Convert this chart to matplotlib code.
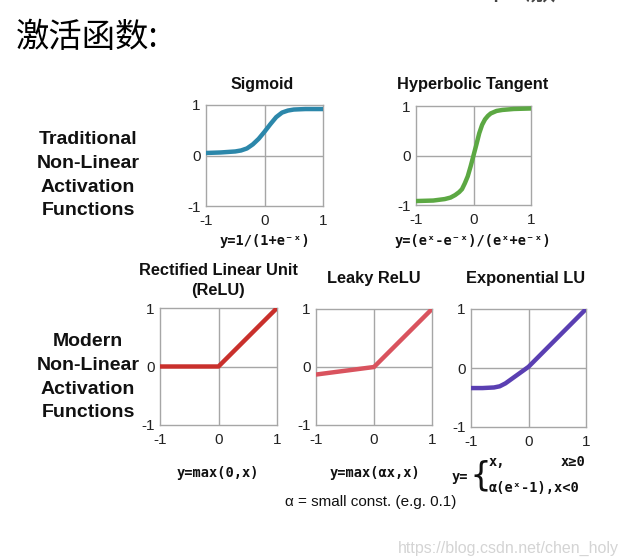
import matplotlib
matplotlib.use("Agg")
import matplotlib.pyplot as plt

W, H = 626, 559

# curve samples
sig_x = [-1.0, -0.75, -0.5, -0.4, -0.3, -0.2, -0.1, 0.0, 0.1, 0.2, 0.3, 0.4, 0.5, 0.7, 1.0]
sig_y = [0.05, 0.06, 0.08, 0.10, 0.14, 0.22, 0.33, 0.47, 0.62, 0.76, 0.85, 0.89, 0.91, 0.92, 0.92]

tanh_x = [-1.0, -0.7, -0.5, -0.4, -0.32, -0.25, -0.2, -0.15, -0.1, -0.05, 0.0, 0.05, 0.1, 0.15, 0.2, 0.25, 0.3, 0.4, 0.5, 0.7, 1.0]
tanh_y = [-0.92, -0.91, -0.88, -0.85, -0.80, -0.74, -0.68, -0.56, -0.42, -0.22, 0.0, 0.22, 0.45, 0.62, 0.73, 0.80, 0.85, 0.90, 0.92, 0.94, 0.95]

relu_x = [-1.0, 0.0, 1.0]
relu_y = [0.0, 0.0, 1.0]

leaky_x = [-1.0, 0.0, 1.0]
leaky_y = [-0.13, 0.0, 1.0]

elu_x = [-1.0, -0.8, -0.6, -0.5, -0.4, -0.3, -0.2, -0.1, 0.0, 0.5, 1.0]
elu_y = [-0.34, -0.34, -0.33, -0.31, -0.26, -0.19, -0.12, -0.05, 0.02, 0.51, 1.0]

ticks = [-1, 0, 1]
tick_labels = ["-1", "0", "1"]

plt.rcParams['font.family'] = ['Liberation Sans', 'DejaVu Sans']

fig = plt.figure(figsize=(W / 100, H / 100), dpi=100)
fig.patch.set_facecolor("white")


def fx(x):
    return x / W


def fy(y):
    return 1 - y / H


def panel(left, top, right, bottom, xs, ys, color):
    ax = fig.add_axes([fx(left), fy(bottom), fx(right - left), (bottom - top) / H])
    ax.plot(xs, ys, color=color, lw=3.2, solid_capstyle="round", solid_joinstyle="round", zorder=3)
    ax.axhline(0, color="#a6a6a6", lw=1.0, zorder=1)
    ax.axvline(0, color="#a6a6a6", lw=1.0, zorder=1)
    ax.set_xlim(-1, 1)
    ax.set_ylim(-1, 1)
    ax.set_xticks(ticks)
    ax.set_yticks(ticks)
    ax.set_xticklabels(tick_labels)
    ax.set_yticklabels(tick_labels)
    ax.tick_params(axis="x", length=0, labelsize=11, pad=6, colors="#222222")
    ax.tick_params(axis="y", length=0, labelsize=11, pad=4, colors="#222222")
    for s in ax.spines.values():
        s.set_color("#a6a6a6")
        s.set_linewidth(1.0)
    return ax


def txt(x, y, s, size, weight="normal", family=None, ha="center", color="#111111", **kw):
    fam = family if family else ['Liberation Sans', 'DejaVu Sans']
    fig.text(fx(x), fy(y), s, fontsize=size, fontweight=weight, family=fam,
             ha=ha, va="center", color=color, **kw)


# panels
panel(206, 105, 323, 206, sig_x, sig_y, "#2c87aa")
panel(416, 106, 531, 205, tanh_x, tanh_y, "#5ca843")
panel(160, 308, 277, 425, relu_x, relu_y, "#c9302c")
panel(316, 309, 432, 425, leaky_x, leaky_y, "#d9535e")
panel(471, 309, 586, 427, elu_x, elu_y, "#5a3fb2")

# heading
cjk = ['Noto Sans CJK SC', 'DejaVu Sans']
txt(16, 37, "激活函数:", 24, family=cjk, ha="left", color="#000000")
txt(300, -9, "TensorFlow  中  激", 22, family=cjk, ha="left", color="#444444")

# row labels
for i, s in enumerate(["Traditional", "Non-Linear", "Activation", "Functions"]):
    txt(88, 140 + i * 23.5, s, 14, weight="bold")
for i, s in enumerate(["Modern", "Non-Linear", "Activation", "Functions"]):
    txt(88, 342 + i * 23.5, s, 14, weight="bold")

# panel titles
txt(262, 85, "Sigmoid", 11.5, weight="bold")
txt(473, 85, "Hyperbolic Tangent", 11.8, weight="bold")
txt(218, 270, "Rectified Linear Unit", 11.8, weight="bold")
txt(218, 290, "(ReLU)", 11.8, weight="bold")
txt(374, 279, "Leaky ReLU", 11.8, weight="bold")
txt(526, 279, "Exponential LU", 11.8, weight="bold")

# formulas
mono = ['DejaVu Sans Mono', 'DejaVu Sans']
txt(265, 241, "y=1/(1+e\u207b\u02e3)", 9.8, weight="bold", family=mono)
txt(473, 241, "y=(e\u02e3-e\u207b\u02e3)/(e\u02e3+e\u207b\u02e3)", 9.8, weight="bold", family=mono)
txt(218, 473, "y=max(0,x)", 9.8, weight="bold", family=mono)
txt(375, 473, "y=max(\u03b1x,x)", 9.8, weight="bold", family=mono)
txt(452, 477, "y=", 9.8, weight="bold", family=mono, ha="left")
txt(470, 476, "{", 24, family=mono, ha="left", color="#111111")
txt(489, 462, "x,", 9.8, weight="bold", family=mono, ha="left")
txt(585, 462, "x\u22650", 9.8, weight="bold", family=mono, ha="right")
txt(489, 488, "\u03b1(e\u02e3-1),x<0", 9.8, weight="bold", family=mono, ha="left")
txt(371, 502, "\u03b1 = small const. (e.g. 0.1)", 11)

# watermark
txt(508, 548, "https://blog.csdn.net/chen_holy", 11.5, color="#d4d4d4")

fig.savefig("out.png", dpi=100, facecolor="white")
